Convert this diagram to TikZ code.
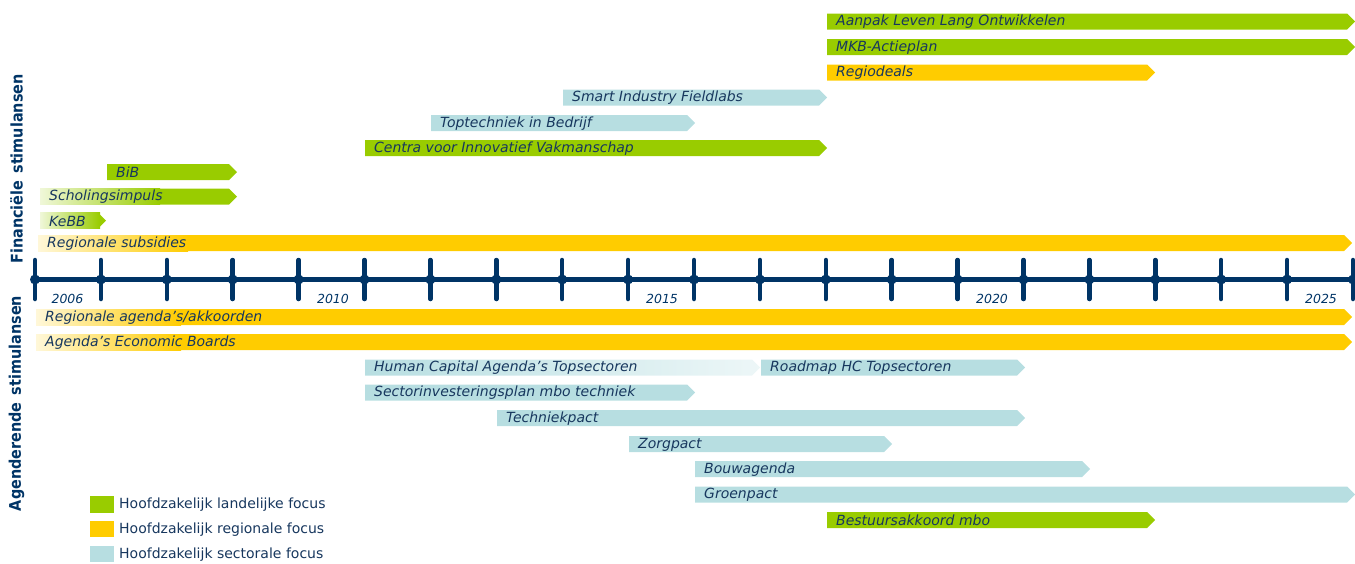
\documentclass[tikz,border=0pt]{standalone}
\usepackage{fontspec}
\setmainfont{DejaVu Sans}
\usepackage{graphicx}
\usepackage{xcolor}
\usepackage{tikz}

\definecolor{lgreen}{RGB}{153,204,0}
\definecolor{lyellow}{RGB}{255,204,0}
\definecolor{lblue}{RGB}{183,222,225}
\definecolor{navy}{RGB}{0,52,102}
\definecolor{txtblue}{RGB}{23,55,94}

% bar: [fade length] name, y, x start, x end (tip), fill, text
\newcommand{\tlbar}[7][0]{%
  \path[#6] (#4,#3-8) -- (#5-8,#3-8) -- (#5,#3) -- (#5-8,#3+8) -- (#4,#3+8) -- cycle;
  \ifnum#1>0
    \shade[left color=white!85!\fadecol, right color=\fadecol] (#4,#3-8) rectangle (#4+#1,#3+8);
  \fi
  \node[bartext] (#2) at (#4+7,#3+0.5) {#7};
}
\newcommand{\fadecol}{lyellow}

\begin{document}
\begin{tikzpicture}[x=1pt,y=-1pt,
    bartext/.style={anchor=west,inner sep=2pt,text=txtblue,font=\fontsize{14}{16}\selectfont\itshape},
    legtext/.style={anchor=west,inner sep=0pt,text=txtblue,font=\fontsize{14}{16}\selectfont},
    sidetext/.style={rotate=90,text=navy,font=\fontsize{16}{18}\selectfont\bfseries},
    yeartext/.style={text=navy,font=\fontsize{12.5}{14}\selectfont\itshape}]
  \useasboundingbox (0,0) rectangle (1355,563);

  % Financiele stimulansen
  \tlbar{aanpak}{21.5}{827}{1355}{fill=lgreen}{Aanpak Leven Lang Ontwikkelen}
  \tlbar{mkb}{47}{827}{1355}{fill=lgreen}{MKB-Actieplan}
  \tlbar{regiodeals}{72.5}{827}{1155}{fill=lyellow}{Regiodeals}
  \tlbar{smart}{97.5}{563}{827}{fill=lblue}{Smart Industry Fieldlabs}
  \tlbar{toptech}{123}{431}{695}{fill=lblue}{Toptechniek in Bedrijf}
  \tlbar{centra}{148}{365}{827}{fill=lgreen}{Centra voor Innovatief Vakmanschap}
  \tlbar{bib}{172}{107}{237}{fill=lgreen}{BiB}
  \renewcommand{\fadecol}{lgreen}
  \tlbar[120]{scholing}{196.5}{40}{237}{fill=lgreen}{Scholingsimpuls}
  \tlbar[60]{kebb}{220.5}{40}{106}{fill=lgreen}{KeBB}
  \renewcommand{\fadecol}{lyellow}
  \tlbar[150]{regsub}{243}{38}{1352}{fill=lyellow}{Regionale subsidies}

  % Time axis
  \draw[navy,line width=5pt] (35,279.5) -- (1353,279.5);
  \foreach \k in {0,...,20} {
    \draw[navy,line width=4.5pt,line cap=round] (35+65.9*\k,260) -- (35+65.9*\k,299);
    \fill[navy] (35+65.9*\k,279.5) circle (5pt);
  }
  \node[yeartext] (y2006) at (67.5,298.5) {2006};
  \node[yeartext] (y2010) at (333,298.5) {2010};
  \node[yeartext] (y2015) at (662,298.5) {2015};
  \node[yeartext] (y2020) at (992,298.5) {2020};
  \node[yeartext] (y2025) at (1321,298.5) {2025};

  % Agenderende stimulansen
  \tlbar[145]{regagenda}{317}{36}{1352}{fill=lyellow}{Regionale agenda’s/akkoorden}
  \tlbar[145]{economic}{342}{36}{1352}{fill=lyellow}{Agenda’s Economic Boards}
  \tlbar{hca}{367.5}{365}{760}{left color=lblue,right color=lblue!25}{Human Capital Agenda’s Topsectoren}
  \tlbar{roadmap}{367.5}{761}{1025}{fill=lblue}{Roadmap HC Topsectoren}
  \tlbar{sip}{392.5}{365}{695}{fill=lblue}{Sectorinvesteringsplan mbo techniek}
  \tlbar{techniek}{418}{497}{1025}{fill=lblue}{Techniekpact}
  \tlbar{zorg}{444}{629}{892}{fill=lblue}{Zorgpact}
  \tlbar{bouw}{469}{695}{1090}{fill=lblue}{Bouwagenda}
  \tlbar{groen}{494.5}{695}{1355}{fill=lblue}{Groenpact}
  \tlbar{bestuur}{520}{827}{1155}{fill=lgreen}{Bestuursakkoord mbo}

  % Side labels
  \node[sidetext] (fin) at (16.5,169) {\scalebox{0.9}[1]{Financiële\hspace{0.5em}stimulansen}};
  \node[sidetext] (agd) at (16.5,403.5) {\scalebox{0.9}[1]{Agenderende\hspace{0.5em}stimulansen}};

  % Legend
  \fill[lgreen] (90,496) rectangle (114,513);
  \node[legtext] (leg1) at (119,505) {Hoofdzakelijk landelijke focus};
  \fill[lyellow] (90,521) rectangle (114,537);
  \node[legtext] (leg2) at (119,529.5) {Hoofdzakelijk regionale focus};
  \fill[lblue] (90,546) rectangle (114,562);
  \node[legtext] (leg3) at (119,554.5) {Hoofdzakelijk sectorale focus};
\end{tikzpicture}
\end{document}
